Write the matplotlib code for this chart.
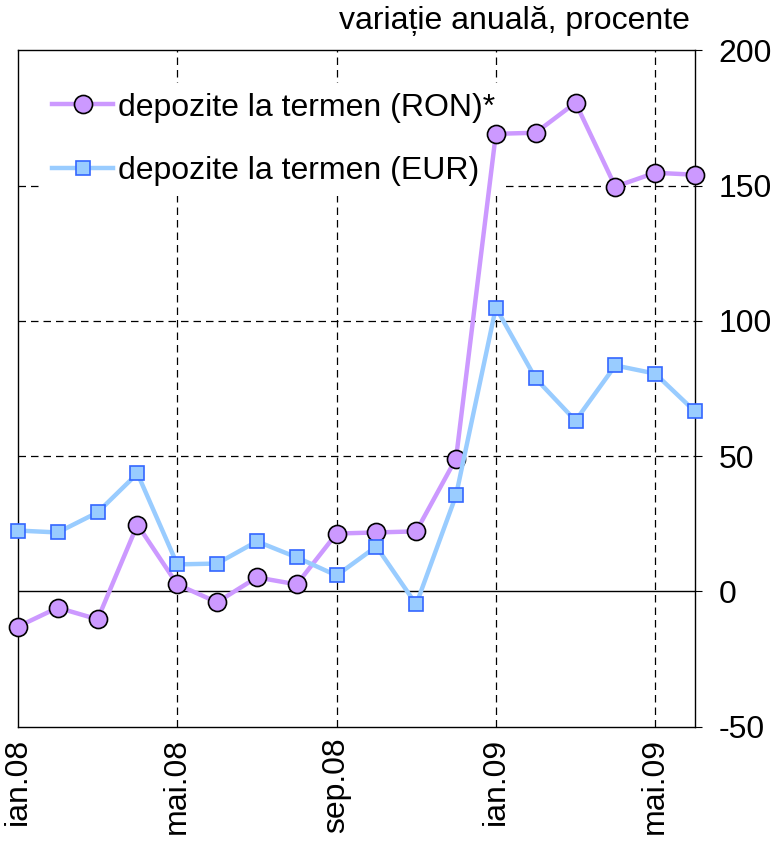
import matplotlib
matplotlib.use('Agg')
import matplotlib.pyplot as plt

months = ["ian.08", "feb.08", "mar.08", "apr.08", "mai.08", "iun.08", "iul.08", "aug.08",
          "sep.08", "oct.08", "noi.08", "dec.08", "ian.09", "feb.09", "mar.09", "apr.09",
          "mai.09", "iun.09"]
ron = [-13.0, -6.0, -10.3, 24.7, 2.6, -4.0, 5.2, 2.6, 21.4, 21.8, 22.2, 49.1,
       169.1, 169.5, 180.6, 149.6, 154.7, 154.0]
eur = [22.5, 21.8, 29.2, 43.6, 10.0, 10.3, 18.5, 12.6, 5.9, 16.6, -4.8, 35.5,
       104.9, 78.7, 63.1, 83.5, 80.5, 66.5]

plt.rcParams['font.family'] = ['Liberation Sans', 'DejaVu Sans']
plt.rcParams['axes.unicode_minus'] = False

fig = plt.figure(figsize=(7.8, 8.51), dpi=100)
ax = fig.add_axes([0.023, 0.146, 0.868, 0.795])

x = list(range(len(months)))

for v in [50, 100, 150]:
    ax.axhline(v, color='black', lw=0.9, ls=(0, (6, 4)), zorder=1)
for i in range(4, len(months), 4):
    ax.axvline(i, color='black', lw=0.9, ls=(0, (6, 4)), zorder=1)
ax.axhline(0, color='black', lw=1.0, zorder=1)

ax.plot(x, ron, color='#CC99FF', lw=3.2, marker='o', markersize=13,
        markerfacecolor='#CC99FF', markeredgecolor='black', markeredgewidth=1.2,
        label='depozite la termen (RON)*', clip_on=False, zorder=3)
ax.plot(x, eur, color='#99CCFF', lw=3.2, marker='s', markersize=10,
        markerfacecolor='#99CCFF', markeredgecolor='#3366FF', markeredgewidth=1.2,
        label='depozite la termen (EUR)', clip_on=False, zorder=3)

ax.set_xlim(0, len(months) - 1)
ax.set_ylim(-50, 200)
ax.yaxis.tick_right()
ax.set_yticks([-50, 0, 50, 100, 150, 200])
ax.tick_params(axis='y', direction='out', length=5, labelsize=23, pad=12)
ax.set_xticks(x[::4])
ax.set_xticklabels(months[::4], rotation=90, fontsize=23)
ax.tick_params(axis='x', length=0, pad=8)
for s in ax.spines.values():
    s.set_linewidth(1.0)

leg = ax.legend(loc='upper left', bbox_to_anchor=(0.027, 0.961), fontsize=23,
                frameon=True, handlelength=1.9, handletextpad=0.15,
                labelspacing=1.05, borderaxespad=0.2, borderpad=0.3)
leg.get_frame().set_edgecolor('none')
leg.get_frame().set_facecolor('white')
leg.get_frame().set_alpha(1)
leg.set_zorder(2)

fig.text(0.885, 0.975, 'variație anuală, procente', ha='right', va='center', fontsize=23)

fig.savefig('out.png', dpi=100)
